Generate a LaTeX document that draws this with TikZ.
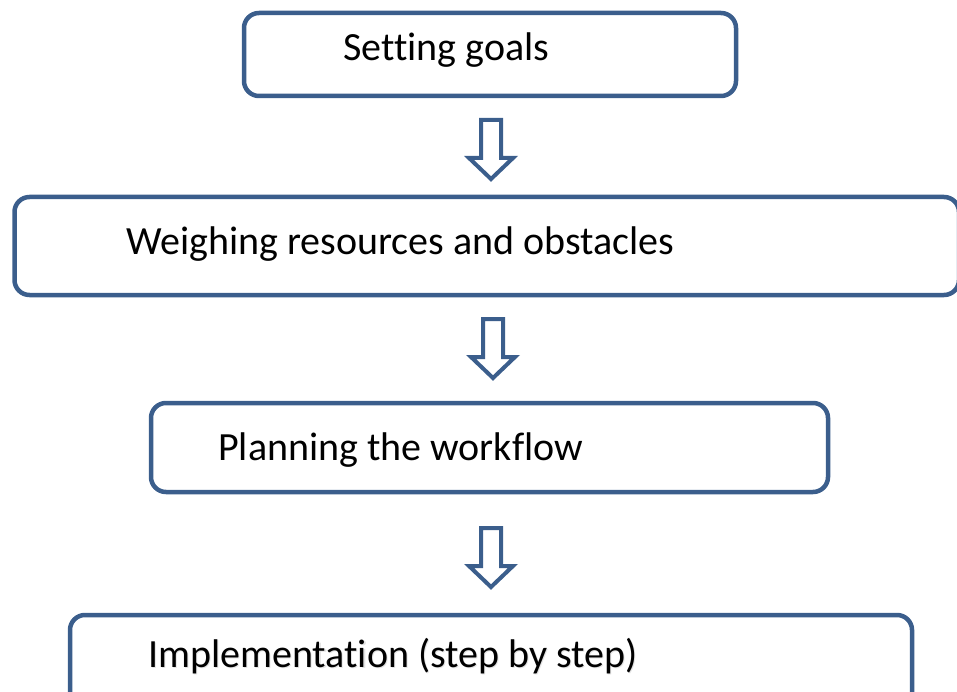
\documentclass[tikz,border=0pt]{standalone}
\usepackage{fontspec}
\setmainfont{Carlito}[Ligatures=NoCommon]
\definecolor{flowblue}{RGB}{59,94,140}
\begin{document}
\begin{tikzpicture}[x=1pt,y=-1pt,
  stage/.style={draw=flowblue, line width=4.5pt, rounded corners=15pt,
    rectangle, inner sep=0pt},
  caption/.style={anchor=base west, inner sep=0pt,
    font=\fontsize{40}{48}\selectfont},
  hollowarrow/.style={draw=flowblue, line width=4pt, fill=white,
    line join=miter},
  pics/downarrow/.style={code={
    \draw[hollowarrow] (-10,0) -- (10,0) -- (10,38) -- (22,38) -- (0,59)
      -- (-22,38) -- (-10,38) -- cycle;}}]
\useasboundingbox (0,0) rectangle (957,692);
\clip (0,0) rectangle (957,692);

% the four stages
\node[stage, minimum width=492, minimum height=83] (goals) at (490,54.5) {};
\node[stage, minimum width=944.5, minimum height=98] (weigh) at (486.75,246) {};
\node[stage, minimum width=677, minimum height=89] (plan) at (489.5,447.5) {};
\node[stage, minimum width=842, minimum height=105] (impl) at (491,667.5) {};

% stage captions
\node[caption] (goals-t) at (343,61) {Setting goals};
\node[caption] (weigh-t) at (126,255) {Weighing resources and obstacles};
\node[caption] (plan-t) at (218,460) {Planning the workflow};
\node[caption, text=black!30, opacity=0.35] (impl-s) at (149.2,668.2)
  {Implementation (step by step)};
\node[caption] (impl-t) at (148,667) {Implementation (step by step)};

% hollow arrows between the stages
\coordinate (a1) at (491,120);
\coordinate (a2) at (493,319);
\coordinate (a3) at (491,528);
\pic at (a1) {downarrow};
\pic at (a2) {downarrow};
\pic at (a3) {downarrow};
\end{tikzpicture}
\end{document}
